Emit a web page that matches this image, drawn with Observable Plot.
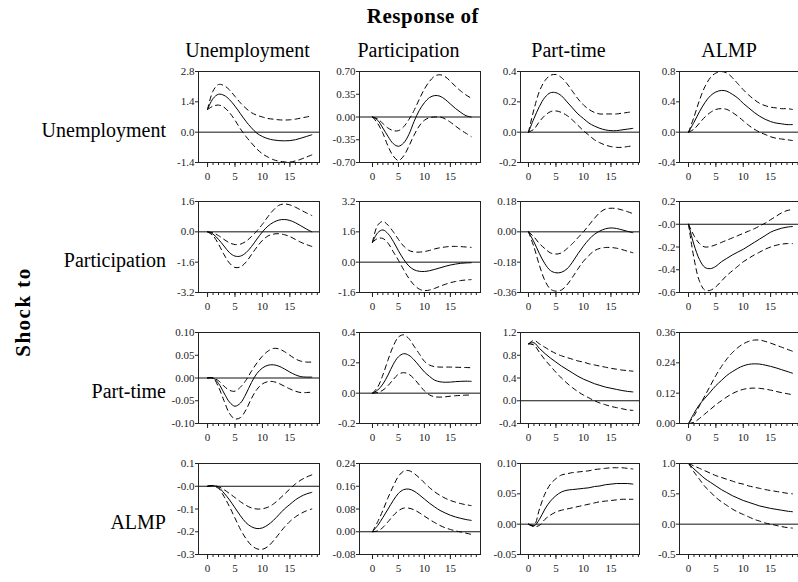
<!DOCTYPE html>
<html><head><meta charset="utf-8">
<script src="https://cdn.jsdelivr.net/npm/d3@7"></script>
<script src="https://cdn.jsdelivr.net/npm/@observablehq/plot@0.6"></script>
<style>
html,body{margin:0;padding:0;background:#fff;overflow:hidden;}
#chart{position:relative;width:798px;height:582px;overflow:hidden;background:#fff;}
#chart svg{position:absolute;}
#chart svg text{font-family:'Liberation Serif','Times New Roman',serif;}
</style></head><body><div id="chart"></div>
<script>
// ---------------- data ----------------
const variables = ["Unemployment", "Participation", "Part-time", "ALMP"];
const horizon = [0,1,2,3,4,5,6,7,8,9,10,11,12,13,14,15,16,17,18,19];
const xMinorTicks = [0,1,2,3,4,5,6,7,8,9,10,11,12,13,14,15,16,17,18,19,20];
const xMajorTicks = [0,5,10,15];
const xMajorLabels = ["0","5","10","15"];

// shock Unemployment
const u_u    = [1.05,1.55,1.75,1.7,1.5,1.2,0.85,0.5,0.2,-0.05,-0.2,-0.3,-0.36,-0.39,-0.4,-0.39,-0.35,-0.28,-0.2,-0.12];
const u_u_hi = [1.05,1.9,2.2,2.15,1.95,1.65,1.35,1.1,0.9,0.78,0.7,0.63,0.6,0.57,0.56,0.57,0.6,0.65,0.7,0.75];
const u_u_lo = [1.05,1.2,1.25,1.15,0.9,0.55,0.15,-0.2,-0.5,-0.78,-1.0,-1.15,-1.27,-1.34,-1.37,-1.38,-1.33,-1.25,-1.15,-1.05];
const u_u_ticks = [2.8,1.4,0,-1.4];
const u_u_tickLabels = ["2.8","1.4","0.0","-1.4"];

const u_p    = [0,-0.05,-0.17,-0.3,-0.41,-0.45,-0.4,-0.27,-0.07,0.1,0.22,0.3,0.33,0.32,0.27,0.2,0.13,0.07,0.02,0.0];
const u_p_hi = [0,-0.03,-0.1,-0.17,-0.21,-0.21,-0.15,-0.04,0.1,0.27,0.43,0.55,0.63,0.65,0.62,0.55,0.47,0.4,0.34,0.29];
const u_p_lo = [0,-0.1,-0.25,-0.45,-0.6,-0.67,-0.6,-0.45,-0.28,-0.14,-0.05,-0.01,0.0,0.0,-0.03,-0.08,-0.14,-0.2,-0.25,-0.3];
const u_p_ticks = [0.70,0.35,0,-0.35,-0.70];
const u_p_tickLabels = ["0.70","0.35","0.00","-0.35","-0.70"];

const u_t    = [0,0.09,0.17,0.23,0.26,0.26,0.24,0.2,0.16,0.12,0.09,0.06,0.04,0.025,0.015,0.01,0.01,0.015,0.02,0.025];
const u_t_hi = [0,0.15,0.27,0.34,0.375,0.38,0.36,0.32,0.27,0.22,0.18,0.15,0.13,0.12,0.12,0.12,0.12,0.125,0.13,0.135];
const u_t_lo = [0,0.02,0.07,0.11,0.135,0.14,0.13,0.11,0.08,0.045,0.01,-0.02,-0.05,-0.07,-0.085,-0.095,-0.1,-0.1,-0.095,-0.09];
const u_t_ticks = [0.4,0.2,0,-0.2];
const u_t_tickLabels = ["0.4","0.2","0.0","-0.2"];

const u_a    = [0,0.13,0.27,0.39,0.48,0.53,0.55,0.54,0.5,0.45,0.38,0.32,0.26,0.21,0.17,0.14,0.12,0.11,0.1,0.1];
const u_a_hi = [0,0.2,0.42,0.6,0.72,0.78,0.8,0.78,0.72,0.64,0.56,0.49,0.43,0.38,0.35,0.33,0.32,0.31,0.31,0.3];
const u_a_lo = [0,0.04,0.12,0.2,0.26,0.3,0.31,0.3,0.26,0.21,0.15,0.09,0.04,0.0,-0.03,-0.06,-0.08,-0.09,-0.1,-0.11];
const u_a_ticks = [0.8,0.4,0,-0.4];
const u_a_tickLabels = ["0.8","0.4","0.0","-0.4"];

// shock Participation
const p_u    = [0,-0.12,-0.4,-0.75,-1.1,-1.28,-1.28,-1.1,-0.78,-0.38,0.0,0.3,0.5,0.62,0.65,0.6,0.48,0.32,0.15,0.0];
const p_u_hi = [0,-0.05,-0.2,-0.4,-0.58,-0.67,-0.65,-0.5,-0.25,0.05,0.4,0.8,1.15,1.4,1.47,1.42,1.3,1.15,1.0,0.86];
const p_u_lo = [0,-0.2,-0.65,-1.2,-1.65,-1.88,-1.85,-1.6,-1.2,-0.8,-0.45,-0.22,-0.12,-0.1,-0.15,-0.25,-0.4,-0.55,-0.67,-0.77];
const p_u_ticks = [1.6,0,-1.6,-3.2];
const p_u_tickLabels = ["1.6","0.0","-1.6","-3.2"];

const p_p    = [1.05,1.55,1.7,1.5,1.1,0.6,0.15,-0.2,-0.4,-0.48,-0.49,-0.45,-0.38,-0.3,-0.22,-0.15,-0.1,-0.06,-0.04,-0.03];
const p_p_hi = [1.05,1.95,2.15,1.95,1.6,1.2,0.85,0.62,0.54,0.53,0.56,0.62,0.7,0.76,0.8,0.83,0.83,0.82,0.8,0.78];
const p_p_lo = [1.05,1.25,1.25,1.0,0.55,0.1,-0.4,-0.85,-1.2,-1.42,-1.5,-1.47,-1.38,-1.27,-1.17,-1.08,-1.02,-0.97,-0.94,-0.92];
const p_p_ticks = [3.2,1.6,0,-1.6];
const p_p_tickLabels = ["3.2","1.6","0.0","-1.6"];

const p_t    = [0,-0.06,-0.13,-0.19,-0.23,-0.243,-0.24,-0.22,-0.18,-0.13,-0.085,-0.045,-0.015,0.005,0.018,0.023,0.02,0.012,0.003,-0.005];
const p_t_hi = [0,-0.03,-0.07,-0.1,-0.125,-0.132,-0.125,-0.1,-0.07,-0.035,0.0,0.04,0.08,0.115,0.135,0.14,0.138,0.13,0.12,0.108];
const p_t_lo = [0,-0.09,-0.2,-0.29,-0.34,-0.352,-0.345,-0.315,-0.27,-0.22,-0.175,-0.14,-0.112,-0.098,-0.093,-0.093,-0.097,-0.105,-0.115,-0.124];
const p_t_ticks = [0.18,0,-0.18,-0.36];
const p_t_tickLabels = ["0.18","0.00","-0.18","-0.36"];

const p_a    = [0,-0.18,-0.31,-0.38,-0.39,-0.37,-0.33,-0.3,-0.27,-0.245,-0.22,-0.19,-0.16,-0.13,-0.1,-0.07,-0.05,-0.035,-0.025,-0.02];
const p_a_hi = [0,-0.1,-0.17,-0.2,-0.195,-0.18,-0.16,-0.14,-0.12,-0.1,-0.08,-0.06,-0.04,-0.015,0.01,0.04,0.07,0.1,0.12,0.13];
const p_a_lo = [0,-0.3,-0.5,-0.58,-0.58,-0.55,-0.5,-0.45,-0.41,-0.37,-0.33,-0.3,-0.27,-0.245,-0.22,-0.2,-0.185,-0.175,-0.17,-0.17];
const p_a_ticks = [0.2,0,-0.2,-0.4,-0.6];
const p_a_tickLabels = ["0.2","-0.0","-0.2","-0.4","-0.6"];

// shock Part-time
const t_u    = [0,0,-0.012,-0.033,-0.053,-0.062,-0.055,-0.035,-0.01,0.01,0.022,0.028,0.029,0.026,0.02,0.013,0.007,0.003,0.002,0.002];
const t_u_hi = [0,0,-0.006,-0.018,-0.027,-0.029,-0.02,-0.005,0.015,0.033,0.048,0.059,0.065,0.064,0.058,0.05,0.042,0.037,0.035,0.035];
const t_u_lo = [0,0,-0.02,-0.05,-0.078,-0.09,-0.087,-0.07,-0.045,-0.025,-0.013,-0.008,-0.008,-0.012,-0.018,-0.024,-0.029,-0.032,-0.032,-0.031];
const t_u_ticks = [0.10,0.05,0,-0.05,-0.10];
const t_u_tickLabels = ["0.10","0.05","0.00","-0.05","-0.10"];

const t_p    = [0,0.02,0.06,0.12,0.19,0.24,0.26,0.25,0.22,0.18,0.14,0.11,0.085,0.075,0.072,0.073,0.076,0.078,0.079,0.078];
const t_p_hi = [0,0.04,0.12,0.22,0.31,0.37,0.385,0.36,0.31,0.26,0.21,0.185,0.175,0.172,0.172,0.172,0.171,0.17,0.169,0.168];
const t_p_lo = [0,0.005,0.02,0.05,0.09,0.125,0.135,0.125,0.095,0.055,0.015,-0.012,-0.024,-0.026,-0.024,-0.02,-0.017,-0.015,-0.013,-0.012];
const t_p_ticks = [0.4,0.2,0,-0.2];
const t_p_tickLabels = ["0.4","0.2","0.0","-0.2"];

const t_t    = [1.0,1.02,0.92,0.83,0.75,0.68,0.61,0.55,0.49,0.43,0.38,0.34,0.3,0.27,0.24,0.22,0.2,0.18,0.165,0.155];
const t_t_hi = [1.0,1.06,1.0,0.94,0.88,0.83,0.79,0.76,0.73,0.7,0.68,0.65,0.63,0.61,0.59,0.57,0.555,0.54,0.53,0.52];
const t_t_lo = [1.0,0.98,0.85,0.72,0.61,0.5,0.4,0.31,0.23,0.16,0.1,0.05,0.0,-0.04,-0.07,-0.1,-0.12,-0.14,-0.16,-0.17];
const t_t_ticks = [1.2,0.8,0.4,0,-0.4];
const t_t_tickLabels = ["1.2","0.8","0.4","0.0","-0.4"];

const t_a    = [0,0.04,0.075,0.1,0.125,0.15,0.17,0.19,0.205,0.218,0.228,0.234,0.236,0.235,0.231,0.226,0.22,0.213,0.206,0.199];
const t_a_hi = [0,0.03,0.07,0.11,0.15,0.19,0.225,0.255,0.28,0.3,0.315,0.325,0.33,0.33,0.325,0.318,0.31,0.302,0.294,0.286];
const t_a_lo = [0,0.005,0.02,0.038,0.056,0.074,0.09,0.105,0.118,0.128,0.135,0.139,0.14,0.139,0.136,0.132,0.127,0.122,0.118,0.114];
const t_a_ticks = [0.36,0.24,0.12,0];
const t_a_tickLabels = ["0.36","0.24","0.12","0.00"];

// shock ALMP
const a_u    = [0,0.003,-0.005,-0.03,-0.06,-0.095,-0.13,-0.16,-0.178,-0.186,-0.183,-0.17,-0.15,-0.125,-0.1,-0.08,-0.06,-0.045,-0.034,-0.027];
const a_u_hi = [0,0.003,-0.002,-0.015,-0.032,-0.05,-0.068,-0.084,-0.095,-0.1,-0.099,-0.092,-0.078,-0.058,-0.035,-0.012,0.01,0.027,0.04,0.05];
const a_u_lo = [0,0.002,-0.01,-0.045,-0.09,-0.14,-0.19,-0.23,-0.26,-0.275,-0.277,-0.265,-0.24,-0.21,-0.18,-0.155,-0.135,-0.12,-0.108,-0.1];
const a_u_ticks = [0.1,0,-0.1,-0.2,-0.3];
const a_u_tickLabels = ["0.1","-0.0","-0.1","-0.2","-0.3"];

const a_p    = [0,0.022,0.05,0.08,0.11,0.135,0.148,0.15,0.143,0.13,0.115,0.1,0.087,0.075,0.066,0.058,0.052,0.047,0.043,0.04];
const a_p_hi = [0,0.035,0.075,0.12,0.16,0.195,0.213,0.215,0.205,0.19,0.172,0.155,0.14,0.128,0.118,0.11,0.104,0.099,0.095,0.092];
const a_p_lo = [0,0.003,0.015,0.035,0.057,0.074,0.083,0.083,0.077,0.067,0.055,0.043,0.032,0.022,0.014,0.008,0.003,-0.001,-0.005,-0.009];
const a_p_ticks = [0.24,0.16,0.08,0,-0.08];
const a_p_tickLabels = ["0.24","0.16","0.08","0.00","-0.08"];

const a_t    = [0,-0.003,0.008,0.025,0.038,0.047,0.053,0.056,0.057,0.058,0.059,0.06,0.062,0.063,0.065,0.066,0.067,0.067,0.067,0.066];
const a_t_hi = [0,-0.002,0.025,0.05,0.066,0.075,0.081,0.083,0.085,0.086,0.087,0.088,0.09,0.091,0.092,0.093,0.093,0.093,0.092,0.091];
const a_t_lo = [0,-0.004,-0.002,0.008,0.015,0.02,0.023,0.025,0.027,0.029,0.031,0.033,0.035,0.037,0.038,0.039,0.04,0.041,0.041,0.041];
const a_t_ticks = [0.10,0.05,0,-0.05];
const a_t_tickLabels = ["0.10","0.05","0.00","-0.05"];

const a_a    = [1.0,0.91,0.83,0.75,0.69,0.63,0.57,0.52,0.47,0.43,0.39,0.36,0.33,0.3,0.28,0.26,0.245,0.23,0.215,0.205];
const a_a_hi = [1.0,0.96,0.92,0.88,0.84,0.8,0.77,0.74,0.71,0.68,0.66,0.63,0.61,0.59,0.57,0.555,0.54,0.525,0.51,0.5];
const a_a_lo = [1.0,0.86,0.74,0.62,0.53,0.44,0.37,0.31,0.25,0.2,0.16,0.12,0.08,0.05,0.02,0.0,-0.02,-0.04,-0.055,-0.065];
const a_a_ticks = [1.0,0.5,0,-0.5];
const a_a_tickLabels = ["1.0","0.5","0.0","-0.5"];

// row-major: rows = shock, columns = response
const panels = [
  [u_u,u_u_lo,u_u_hi,u_u_ticks,u_u_tickLabels],[u_p,u_p_lo,u_p_hi,u_p_ticks,u_p_tickLabels],
  [u_t,u_t_lo,u_t_hi,u_t_ticks,u_t_tickLabels],[u_a,u_a_lo,u_a_hi,u_a_ticks,u_a_tickLabels],
  [p_u,p_u_lo,p_u_hi,p_u_ticks,p_u_tickLabels],[p_p,p_p_lo,p_p_hi,p_p_ticks,p_p_tickLabels],
  [p_t,p_t_lo,p_t_hi,p_t_ticks,p_t_tickLabels],[p_a,p_a_lo,p_a_hi,p_a_ticks,p_a_tickLabels],
  [t_u,t_u_lo,t_u_hi,t_u_ticks,t_u_tickLabels],[t_p,t_p_lo,t_p_hi,t_p_ticks,t_p_tickLabels],
  [t_t,t_t_lo,t_t_hi,t_t_ticks,t_t_tickLabels],[t_a,t_a_lo,t_a_hi,t_a_ticks,t_a_tickLabels],
  [a_u,a_u_lo,a_u_hi,a_u_ticks,a_u_tickLabels],[a_p,a_p_lo,a_p_hi,a_p_ticks,a_p_tickLabels],
  [a_t,a_t_lo,a_t_hi,a_t_ticks,a_t_tickLabels],[a_a,a_a_lo,a_a_hi,a_a_ticks,a_a_tickLabels]
];

// ---------------- layout ----------------
const FL = [198, 359, 520, 679];
const FR = [319, 480, 639, 801];
const FT = [71, 201, 332, 463];
const FB = [162, 292, 423, 554];
const XD = [[-1.65, 20.4], [-2.5, 20.8], [-1.45, 20.2], [-1.65, 20.65]];
const mL = 46, mR = 2, mT = 6, mB = 26;
const FONT = "'Liberation Serif', 'Times New Roman', serif";

const chart = document.getElementById("chart");

panels.forEach((p, i) => {
  const r = Math.floor(i / 4), c = i % 4;
  const [mid, lo, hi, ticks, labels] = p;
  const data = horizon.map((t, j) => ({t, mid: mid[j], lo: lo[j], hi: hi[j]}));
  const w = FR[c] - FL[c] + mL + mR;
  const h = FB[r] - FT[r] + mT + mB;
  const svg = Plot.plot({
    width: w, height: h,
    marginLeft: mL, marginRight: mR, marginTop: mT, marginBottom: mB,
    x: {domain: XD[c], axis: null},
    y: {domain: d3.extent(ticks), axis: null},
    style: {fontFamily: FONT, fontSize: "11px", color: "#222", background: "transparent", overflow: "visible"},
    marks: [
      Plot.ruleY([0], {stroke: "#111", strokeWidth: 1}),
      Plot.line(data, {x: "t", y: "hi", curve: "catmull-rom", stroke: "#000", strokeWidth: 1, strokeDasharray: "5,4"}),
      Plot.line(data, {x: "t", y: "lo", curve: "catmull-rom", stroke: "#000", strokeWidth: 1, strokeDasharray: "5,4"}),
      Plot.line(data, {x: "t", y: "mid", curve: "catmull-rom", stroke: "#000", strokeWidth: 1}),
      Plot.frame({stroke: "#222", strokeWidth: 1}),
      Plot.axisY({ticks: ticks, tickFormat: d => labels[ticks.indexOf(d)], tickSize: 3, tickPadding: 1,
                  fontSize: 11, fontFamily: FONT, stroke: "#222", label: null}),
      Plot.axisX({ticks: xMinorTicks, tickSize: 3, tickFormat: () => "", stroke: "#222", label: null}),
      Plot.axisX({ticks: xMajorTicks, tickFormat: d => xMajorLabels[xMajorTicks.indexOf(d)], tickSize: 5, tickPadding: 5,
                  fontSize: 11, fontFamily: FONT, stroke: "#222", label: null})
    ]
  });
  svg.style.left = (FL[c] - mL) + "px";
  svg.style.top = (FT[r] - mT) + "px";
  svg.style.maxWidth = "none";
  chart.appendChild(svg);
});

// ---------------- titles & labels ----------------
const overlay = d3.create("svg")
  .attr("width", 798).attr("height", 582)
  .style("left", "0px").style("top", "0px")
  .style("pointer-events", "none")
  .style("font-family", FONT);

overlay.append("text")
  .attr("x", 423).attr("y", 23)
  .attr("text-anchor", "middle")
  .attr("font-size", 21).attr("font-weight", "bold")
  .attr("letter-spacing", 0.5)
  .text("Response of");

variables.forEach((v, c) => {
  overlay.append("text")
    .attr("x", (FL[c] + Math.min(FR[c], 801)) / 2 - 11).attr("y", 57)
    .attr("text-anchor", "middle")
    .attr("font-size", 20)
    .text(v);
  overlay.append("text")
    .attr("x", 166).attr("y", FT[c] + 66)
    .attr("text-anchor", "end")
    .attr("font-size", 20)
    .text(v);
});

overlay.append("text")
  .attr("transform", "translate(30,312) rotate(-90)")
  .attr("text-anchor", "middle")
  .attr("font-size", 21).attr("font-weight", "bold")
  .attr("letter-spacing", 1.5)
  .text("Shock to");

chart.appendChild(overlay.node());
</script>
</body></html>
